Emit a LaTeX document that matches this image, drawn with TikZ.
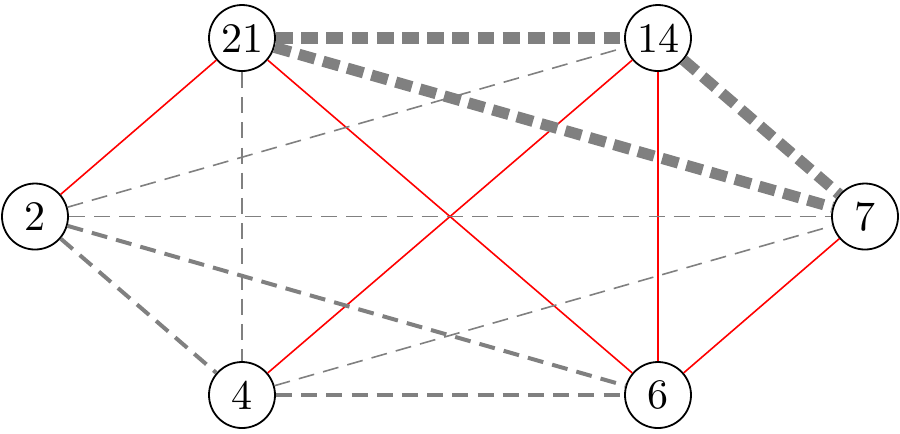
\documentclass[tikz,border=0pt]{standalone}
\begin{document}
\begin{tikzpicture}[x=0.25pt,y=-0.25pt,
  vtx/.style={circle,draw=black,fill=white,line width=0.45pt,minimum size=16.5pt,inner sep=0pt,font=\fontsize{10.5}{12}\selectfont},
  redge/.style={red,line width=0.4pt},
  thinedge/.style={gray,line width=0.4pt,dash pattern=on 4pt off 2.3pt},
  midedge/.style={gray,line width=1pt,dash pattern=on 4pt off 2.3pt},
  fatedge/.style={gray,line width=2.8pt,dash pattern=on 4.2pt off 2.1pt}]
\useasboundingbox (0,0) rectangle (900,433);
\node[vtx] (n21) at (242,38) {21};
\node[vtx] (n14) at (658,38) {14};
\node[vtx] (n2) at (35,216.5) {2};
\node[vtx] (n7) at (865,216.5) {7};
\node[vtx] (n4) at (242,395) {4};
\node[vtx] (n6) at (658,395) {6};
\begin{scope}[on background layer/.style={}]
\draw[redge] (n21) -- (n2);
\draw[redge] (n21) -- (n6);
\draw[redge] (n14) -- (n4);
\draw[redge] (n14) -- (n6);
\draw[redge] (n7) -- (n6);
\draw[thinedge] (n21) -- (n4);
\draw[thinedge] (n2) -- (n14);
\draw[thinedge] (n2) -- (n7);
\draw[thinedge] (n4) -- (n7);
\draw[midedge] (n2) -- (n4);
\draw[midedge] (n2) -- (n6);
\draw[midedge] (n4) -- (n6);
\draw[fatedge] (n21) -- (n14);
\draw[fatedge] (n21) -- (n7);
\draw[fatedge] (n14) -- (n7);
\end{scope}
\end{tikzpicture}
\end{document}
